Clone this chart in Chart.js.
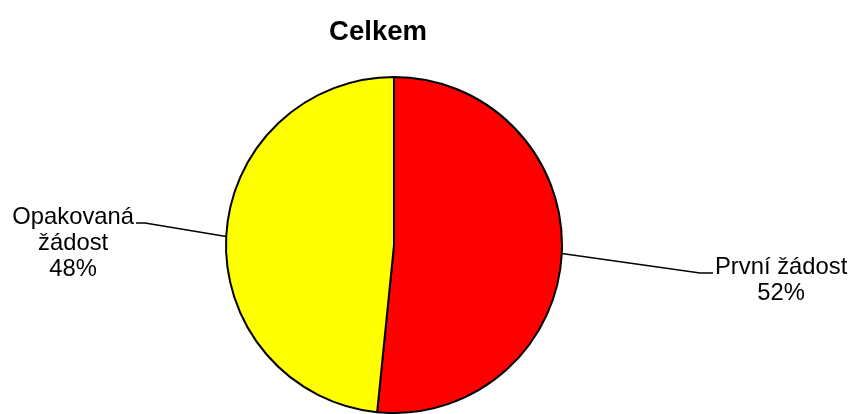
<!DOCTYPE html>
<html>
<head>
<meta charset="utf-8">
<script src="https://cdn.jsdelivr.net/npm/chart.js@4"></script>
<style>
  html, body { margin: 0; padding: 0; background: #fff; }
</style>
</head>
<body>
<canvas id="my-chart" width="850" height="414"></canvas>
<script>
const chartTitle = 'Celkem';
const categories = ['První žádost', 'Opakovaná žádost'];
const labelLines = [['První žádost'], ['Opakovaná', 'žádost']];
const shares = [51.6, 48.4];
const sliceColors = ['#ff0000', '#ffff00'];

// where each leader line bends, relative to the pie centre, and its short arm
const leaderSpots = [
  { dx: 306, dy: 28, arm: 13 },
  { dx: -249, dy: -22, arm: -9 }
];

const labelPlugin = {
  id: 'pieLabels',
  afterDraw(chart) {
    const ctx = chart.ctx;
    const meta = chart.getDatasetMeta(0);
    const total = shares.reduce((a, b) => a + b, 0);
    ctx.save();
    ctx.fillStyle = '#000';
    ctx.textAlign = 'center';
    ctx.textBaseline = 'middle';
    ctx.font = 'bold 27.5px "Liberation Sans", Arial, sans-serif';
    ctx.fillText(chartTitle, 378, 32);

    ctx.font = '23.8px "Liberation Sans", Arial, sans-serif';
    meta.data.forEach((arc, i) => {
      const p = arc.getProps(['x', 'y', 'startAngle', 'endAngle', 'outerRadius'], true);
      const mid = (p.startAngle + p.endAngle) / 2;
      const ex = p.x + Math.cos(mid) * p.outerRadius;
      const ey = p.y + Math.sin(mid) * p.outerRadius;
      const spot = leaderSpots[i];
      const bx = p.x + spot.dx, by = p.y + spot.dy;
      const tx = bx + spot.arm;
      ctx.beginPath();
      ctx.moveTo(ex, ey);
      ctx.lineTo(bx, by);
      ctx.lineTo(tx, by);
      ctx.strokeStyle = '#000';
      ctx.lineWidth = 1.5;
      ctx.stroke();

      const lines = labelLines[i].concat(Math.round(shares[i] / total * 100) + '%');
      const w = Math.max(...lines.map(l => ctx.measureText(l).width));
      const dir = spot.arm > 0 ? 1 : -1;
      const cx = tx + dir * (2 + w / 2);
      lines.forEach((l, j) => ctx.fillText(l, cx, by - 6 + j * 26));
    });
    ctx.restore();
  }
};

const ctx = document.getElementById('my-chart').getContext('2d');
const chart = new Chart(ctx, {
  type: 'pie',
  data: {
    labels: categories,
    datasets: [{
      data: shares,
      backgroundColor: sliceColors,
      borderColor: '#000',
      borderWidth: 2
    }]
  },
  options: {
    responsive: false,
    animation: false,
    layout: { padding: { top: 76, bottom: 0, left: 0, right: 62 } },
    plugins: {
      legend: { display: false },
      tooltip: { enabled: false }
    }
  },
  plugins: [labelPlugin]
});
</script>
</body>
</html>
